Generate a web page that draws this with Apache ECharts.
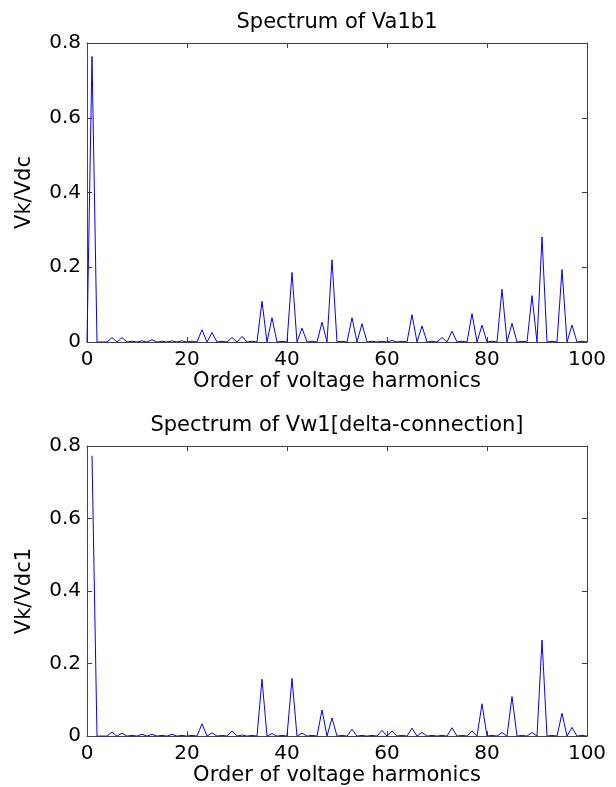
<!DOCTYPE html>
<html>
<head>
<meta charset="utf-8">
<script src="https://cdn.jsdelivr.net/npm/echarts@6/dist/echarts.min.js"></script>
<style>
html,body{margin:0;padding:0;background:#fff;}
#chart{width:616px;height:787px;}
</style>
</head>
<body>
<div id="chart"></div>
<script>
// Harmonic orders and normalized amplitudes
const ordersTop = [];
for (let k = 0; k <= 100; k++) ordersTop.push(k);
const valuesTop = [
  0, 0.764, 0, 0, 0, 0.012, 0, 0.012, 0, 0.002,
  0, 0.003, 0, 0.006, 0, 0.002, 0, 0.003, 0, 0.003,
  0, 0.002, 0, 0.033, 0, 0.025, 0, 0.002, 0, 0.012,
  0, 0.015, 0, 0.002, 0, 0.109, 0, 0.065, 0, 0.002,
  0, 0.186, 0, 0.037, 0, 0.002, 0, 0.053, 0, 0.220,
  0, 0.002, 0, 0.065, 0, 0.049, 0, 0.002, 0, 0.002,
  0, 0.004, 0, 0.002, 0, 0.073, 0, 0.043, 0, 0.002,
  0, 0.012, 0, 0.029, 0, 0.002, 0, 0.076, 0, 0.045,
  0, 0.002, 0, 0.141, 0, 0.050, 0, 0.002, 0, 0.124,
  0, 0.281, 0, 0.002, 0, 0.194, 0, 0.045, 0, 0.002,
  0
];
const ordersBottom = [];
for (let k = 1; k <= 100; k++) ordersBottom.push(k);
const valuesBottom = [
  0.773, 0, 0, 0, 0.011, 0, 0.008, 0, 0.002,
  0, 0.005, 0, 0.005, 0, 0.002, 0, 0.005, 0, 0.002,
  0, 0.002, 0, 0.034, 0, 0.009, 0, 0.002, 0, 0.014,
  0, 0.003, 0, 0.002, 0, 0.157, 0, 0.007, 0, 0.002,
  0, 0.159, 0, 0.008, 0, 0.002, 0, 0.072, 0, 0.050,
  0, 0.002, 0, 0.019, 0, 0.002, 0, 0.002, 0, 0.016,
  0, 0.014, 0, 0.002, 0, 0.022, 0, 0.010, 0, 0.002,
  0, 0.002, 0, 0.023, 0, 0.002, 0, 0.014, 0, 0.089,
  0, 0.002, 0, 0.010, 0, 0.109, 0, 0.002, 0, 0.010,
  0, 0.265, 0, 0.002, 0, 0.063, 0, 0.024, 0, 0.002,
  0
];
const xTicks = [0, 20, 40, 60, 80, 100];
const yTicks = [0, 0.2, 0.4, 0.6, 0.8];
const titles = ['Spectrum of Va1b1', 'Spectrum of Vw1[delta-connection]'];
const yNames = ['Vk/Vdc', 'Vk/Vdc1'];
const xName = 'Order of voltage harmonics';

const FONT = 'DejaVu Sans';
const FRAME = '#444';
const grids = [
  {left: 87, top: 43, width: 500, height: 299},
  {left: 87, top: 446, width: 500, height: 292}
];

function pairs(xs, ys) { return xs.map((x, i) => [x, ys[i]]); }

const xAxes = [], yAxes = [];
grids.forEach((g, gi) => {
  const common = {
    gridIndex: gi, type: 'value',
    axisLine: {show: true, onZero: false, lineStyle: {color: FRAME, width: 1}},
    axisTick: {show: true, inside: true, length: 5, lineStyle: {color: FRAME}},
    splitLine: {show: false}
  };
  xAxes.push(Object.assign({}, common, {
    position: 'bottom', min: xTicks[0], max: xTicks[xTicks.length - 1], interval: 20,
    axisLabel: {color: '#000', fontFamily: FONT, fontSize: 20, margin: 8},
    name: xName, nameLocation: 'middle', nameGap: 26,
    nameTextStyle: {color: '#000', fontFamily: FONT, fontSize: 21}
  }));
  xAxes.push(Object.assign({}, common, {
    position: 'top', min: xTicks[0], max: xTicks[xTicks.length - 1], interval: 20,
    axisLabel: {show: false}
  }));
  yAxes.push(Object.assign({}, common, {
    position: 'left', min: yTicks[0], max: yTicks[yTicks.length - 1], interval: 0.2,
    axisLabel: {color: '#000', fontFamily: FONT, fontSize: 20, margin: 6,
      formatter: v => (v === 0 ? '0' : v.toFixed(1))},
    name: yNames[gi], nameLocation: 'middle', nameGap: 52, nameRotate: 90,
    nameTextStyle: {color: '#000', fontFamily: FONT, fontSize: 21}
  }));
  yAxes.push(Object.assign({}, common, {
    position: 'right', min: yTicks[0], max: yTicks[yTicks.length - 1], interval: 0.2,
    axisLabel: {show: false}
  }));
});

const chart = echarts.init(document.getElementById('chart'), null, {renderer: 'canvas'});
chart.setOption({
  animation: false,
  backgroundColor: '#fff',
  grid: grids.map(g => Object.assign({show: false, containLabel: false}, g)),
  xAxis: xAxes,
  yAxis: yAxes,
  graphic: titles.map((t, i) => ({
    type: 'text',
    x: grids[i].left + grids[i].width / 2,
    y: grids[i].top - 20,
    style: {text: t, fill: '#000', font: '21px "' + FONT + '"', textAlign: 'center', textVerticalAlign: 'middle'}
  })),
  series: [
    {type: 'line', xAxisIndex: 0, yAxisIndex: 0, data: pairs(ordersTop, valuesTop),
      showSymbol: false, symbol: 'none', lineStyle: {color: '#0000ff', width: 1}},
    {type: 'line', xAxisIndex: 2, yAxisIndex: 2, data: pairs(ordersBottom, valuesBottom),
      showSymbol: false, symbol: 'none', lineStyle: {color: '#0000ff', width: 1}}
  ]
});
</script>
</body>
</html>
